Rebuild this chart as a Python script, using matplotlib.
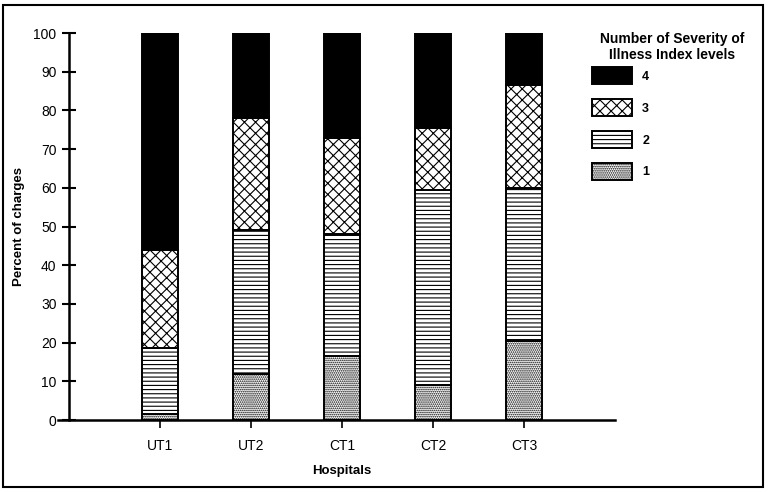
import matplotlib
matplotlib.use("Agg")
import matplotlib.pyplot as plt
from matplotlib.patches import Rectangle, Patch

plt.rcParams["font.family"] = ["Liberation Sans", "DejaVu Sans"]
plt.rcParams["hatch.linewidth"] = 0.8

hospitals = ["UT1", "UT2", "CT1", "CT2", "CT3"]
levels = ["1", "2", "3", "4"]
# percent of charges per severity level (stacked bottom to top)
level1 = [1.5, 12.0, 16.5, 9.0, 20.5]
level2 = [17.0, 37.0, 31.5, 50.5, 39.5]
level3 = [25.5, 29.0, 25.0, 16.0, 26.5]
level4 = [56.0, 22.0, 27.0, 24.5, 13.5]
yticks = [0, 10, 20, 30, 40, 50, 60, 70, 80, 90, 100]

styles = {
    "1": dict(facecolor="white", hatch="........"),
    "2": dict(facecolor="white", hatch="----"),
    "3": dict(facecolor="white", hatch="xxx"),
    "4": dict(facecolor="black", hatch=None),
}

fig = plt.figure(figsize=(7.68, 4.92), dpi=100)
ax = fig.add_axes([0.0898, 0.1463, 0.7110, 0.7866])

x = list(range(len(hospitals)))
bottom = [0.0] * len(hospitals)
for name, vals in zip(levels, [level1, level2, level3, level4]):
    ax.bar(x, vals, bottom=bottom, width=0.4, edgecolor="black",
           linewidth=1.4, **styles[name])
    bottom = [b + v for b, v in zip(bottom, vals)]

ax.set_xlim(-1.0, 5.0)
ax.set_ylim(0, 100)
ax.set_yticks(yticks)
ax.set_xticks(x)
ax.set_xticklabels(hospitals)
for side in ("top", "right", "bottom"):
    ax.spines[side].set_visible(False)
ax.spines["left"].set_linewidth(1.8)
ax.axhline(0, xmin=-0.02, xmax=1.0, color="black", lw=1.8, clip_on=False, zorder=3)
ax.tick_params(axis="y", direction="inout", length=10, width=1.5, labelsize=10, pad=4)
ax.tick_params(axis="x", direction="out", length=6, width=1.2, labelsize=10, pad=8)

ax.set_ylabel("Percent of charges", fontsize=9.5, fontweight="bold", labelpad=6)
ax.set_xlabel("Hospitals", fontsize=9.5, fontweight="bold")
ax.xaxis.set_label_coords(0.5, -0.115)

fig.text(0.875, 0.935, "Number of Severity of\nIllness Index levels", ha="center",
         va="top", fontsize=10, fontweight="bold", linespacing=1.15)

handles = [Patch(edgecolor="black", linewidth=1.4, **styles[n]) for n in reversed(levels)]
fig.legend(handles, list(reversed(levels)), loc="upper left",
           bbox_to_anchor=(0.763, 0.876), frameon=False, borderpad=0,
           prop={"weight": "bold", "size": 9},
           handlelength=3.2, handleheight=1.7, labelspacing=1.2,
           handletextpad=0.8)

fig.patches.append(Rectangle((0.004, 0.01), 0.99, 0.98, transform=fig.transFigure,
                             fill=False, edgecolor="black", linewidth=1.5))

fig.savefig("out.png", dpi=100)
